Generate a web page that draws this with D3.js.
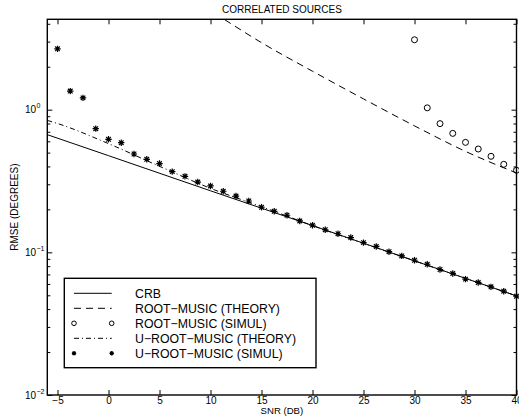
<!DOCTYPE html>
<html>
<head>
<meta charset="utf-8">
<script src="https://cdn.jsdelivr.net/npm/d3@7"></script>
<style>
  body { margin: 0; background: #fff; }
  text { font-family: "Liberation Sans", Arial, Helvetica, sans-serif; fill: #000; }
</style>
</head>
<body>
<svg id="chart" width="519" height="417"></svg>
<script>
// values (RMSE in degrees vs SNR in dB)
var crbSnr   = [-6, 0, 10, 20, 30, 40];
var crbVal   = [0.668, 0.476, 0.270, 0.154, 0.0872, 0.0495];

var rmThSnr  = [11.4, 15, 20, 25, 30, 35, 40];
var rmThVal  = [4.27, 2.95, 1.86, 1.19, 0.77, 0.51, 0.36];

var rmSimSnr = [30, 31.25, 32.5, 33.75, 35, 36.25, 37.5, 38.75, 40];
var rmSimVal = [3.09, 1.03, 0.798, 0.682, 0.590, 0.530, 0.471, 0.414, 0.376];

var urThSnr  = [-6, -5, 0, 5, 10, 15, 20, 30, 40];
var urThVal  = [0.841, 0.80, 0.578, 0.401, 0.281, 0.209, 0.154, 0.0872, 0.0495];

var urSimSnr = [-5, -3.75, -2.5, -1.25, 0, 1.25, 2.5, 3.75, 5, 6.25, 7.5, 8.75, 10, 11.25, 12.5, 13.75,
                15, 16.25, 17.5, 18.75, 20, 21.25, 22.5, 23.75, 25, 26.25, 27.5, 28.75, 30, 31.25, 32.5,
                33.75, 35, 36.25, 37.5, 38.75, 40];
var urSimVal = [2.67, 1.35, 1.21, 0.736, 0.62, 0.587, 0.489, 0.449, 0.419, 0.368, 0.341, 0.311, 0.292, 0.268, 0.248, 0.229,
                0.207, 0.194, 0.182, 0.166, 0.155, 0.144, 0.135, 0.127, 0.117, 0.110, 0.101, 0.0944, 0.0880, 0.0825, 0.0758,
                0.0711, 0.0649, 0.0615, 0.0573, 0.0534, 0.0493];

var xTicks = [-5, 0, 5, 10, 15, 20, 25, 30, 35, 40];
var yMajor = [0.01, 0.1, 1];
var legendLabels = ["CRB", "ROOT\u2212MUSIC (THEORY)", "ROOT\u2212MUSIC (SIMUL)", "U\u2212ROOT\u2212MUSIC (THEORY)", "U\u2212ROOT\u2212MUSIC (SIMUL)"];

var svg = d3.select("#chart");
var L = 47.3, R = 516.5, T = 19.3, B = 395;

var x = d3.scaleLinear().domain([-6, 40]).range([L, R]);
var y = d3.scaleLog().domain([0.01, 4.3]).range([B, T]);

svg.append("defs").append("clipPath").attr("id", "plot-clip")
  .append("rect").attr("x", L).attr("y", T).attr("width", R - L).attr("height", B - T);

// minor log ticks 2..9 per decade
var yMinor = [];
[0.01, 0.1, 1].forEach(function (d) {
  for (var k = 2; k <= 9; k++) { if (d * k <= 4.3) yMinor.push(d * k); }
});

// axes, ticks pointing inward on all four sides
svg.append("g").attr("transform", "translate(0," + B + ")")
  .call(d3.axisBottom(x).tickValues(xTicks).tickSizeInner(-5).tickSizeOuter(0).tickPadding(2))
  .call(function (g) { g.select(".domain").remove(); g.selectAll("text").attr("font-size", 10).attr("font-family", null); });
svg.append("g").attr("transform", "translate(0," + T + ")")
  .call(d3.axisTop(x).tickValues(xTicks).tickSizeInner(-5).tickSizeOuter(0).tickFormat(""))
  .call(function (g) { g.select(".domain").remove(); });

[[L, d3.axisLeft], [R, d3.axisRight]].forEach(function (p) {
  svg.append("g").attr("transform", "translate(" + p[0] + ",0)")
    .call(p[1](y).tickValues(yMajor).tickSizeInner(-5).tickSizeOuter(0).tickFormat(""))
    .call(function (g) { g.select(".domain").remove(); });
  svg.append("g").attr("transform", "translate(" + p[0] + ",0)")
    .call(p[1](y).tickValues(yMinor).tickSizeInner(-3).tickSizeOuter(0).tickFormat(""))
    .call(function (g) { g.select(".domain").remove(); });
});

// y labels as 10^n
yMajor.forEach(function (d) {
  var e = Math.round(Math.log10(d));
  svg.append("text").attr("x", 36).attr("y", y(d) + 3.5).attr("text-anchor", "end").attr("font-size", 10).text("10");
  svg.append("text").attr("x", 36.5).attr("y", y(d) - 1.5).attr("font-size", 7)
    .text(e === 0 ? "0" : "\u2212" + Math.abs(e));
});

svg.append("rect").attr("x", L).attr("y", T).attr("width", R - L).attr("height", B - T)
  .attr("fill", "none").attr("stroke", "#000").attr("stroke-width", 1.4);

// titles
svg.append("text").attr("x", (L + R) / 2).attr("y", 13).attr("text-anchor", "middle").attr("font-size", 10).text("CORRELATED SOURCES");
svg.append("text").attr("x", (L + R) / 2).attr("y", 414.3).attr("text-anchor", "middle").attr("font-size", 9.6).text("SNR (DB)");
svg.append("text").attr("transform", "translate(18," + ((T + B) / 2) + ") rotate(-90)")
  .attr("text-anchor", "middle").attr("font-size", 10).text("RMSE (DEGREES)");

// lines
var line = d3.line().curve(d3.curveMonotoneX).x(function (d) { return x(d[0]); }).y(function (d) { return y(d[1]); });
var plot = svg.append("g").attr("clip-path", "url(#plot-clip)");
function drawLine(xs, vs, dash) {
  plot.append("path").datum(d3.zip(xs, vs)).attr("d", line)
    .attr("fill", "none").attr("stroke", "#000").attr("stroke-width", 1).attr("stroke-dasharray", dash);
}
drawLine(crbSnr, crbVal, null);
drawLine(rmThSnr, rmThVal, "7,5");
drawLine(urThSnr, urThVal, "5,3,1,3");

function star(g, cx, cy, r) {
  var dd = r * 0.72;
  g.append("path")
    .attr("d", "M" + (cx - r) + "," + cy + "H" + (cx + r) + "M" + cx + "," + (cy - r) + "V" + (cy + r) +
      "M" + (cx - dd) + "," + (cy - dd) + "L" + (cx + dd) + "," + (cy + dd) +
      "M" + (cx - dd) + "," + (cy + dd) + "L" + (cx + dd) + "," + (cy - dd))
    .attr("stroke", "#000").attr("stroke-width", 1.2).attr("fill", "none");
}

var marks = svg.append("g");
d3.zip(rmSimSnr, rmSimVal).forEach(function (d) {
  marks.append("circle").attr("cx", x(d[0])).attr("cy", y(d[1])).attr("r", 3)
    .attr("fill", "none").attr("stroke", "#000").attr("stroke-width", 1);
});
d3.zip(urSimSnr, urSimVal).forEach(function (d) { star(marks, x(d[0]), y(d[1]), 3.2); });

// legend
var lg = svg.append("g");
lg.append("rect").attr("x", 64.3).attr("y", 278.3).attr("width", 316 - 64.3).attr("height", 367.7 - 278.3)
  .attr("fill", "#fff").attr("stroke", "#000").attr("stroke-width", 1.4);
legendLabels.forEach(function (lab, i) {
  var yy = 293.3 + i * 15;
  if (i === 0 || i === 1 || i === 3) {
    lg.append("line").attr("x1", 74).attr("x2", 111.7).attr("y1", yy).attr("y2", yy)
      .attr("stroke", "#000").attr("stroke-width", 1)
      .attr("stroke-dasharray", i === 1 ? "7,5" : i === 3 ? "5,3,1,3" : null);
  } else if (i === 2) {
    [74, 111.7].forEach(function (mx) {
      lg.append("circle").attr("cx", mx).attr("cy", yy).attr("r", 2.3).attr("fill", "none").attr("stroke", "#000");
    });
  } else {
    [74, 111.7].forEach(function (mx) { star(lg, mx, yy, 2.2); });
  }
  lg.append("text").attr("x", 135).attr("y", yy).attr("dy", "0.36em").attr("font-size", 12.3).text(lab);
});
</script>
</body>
</html>
